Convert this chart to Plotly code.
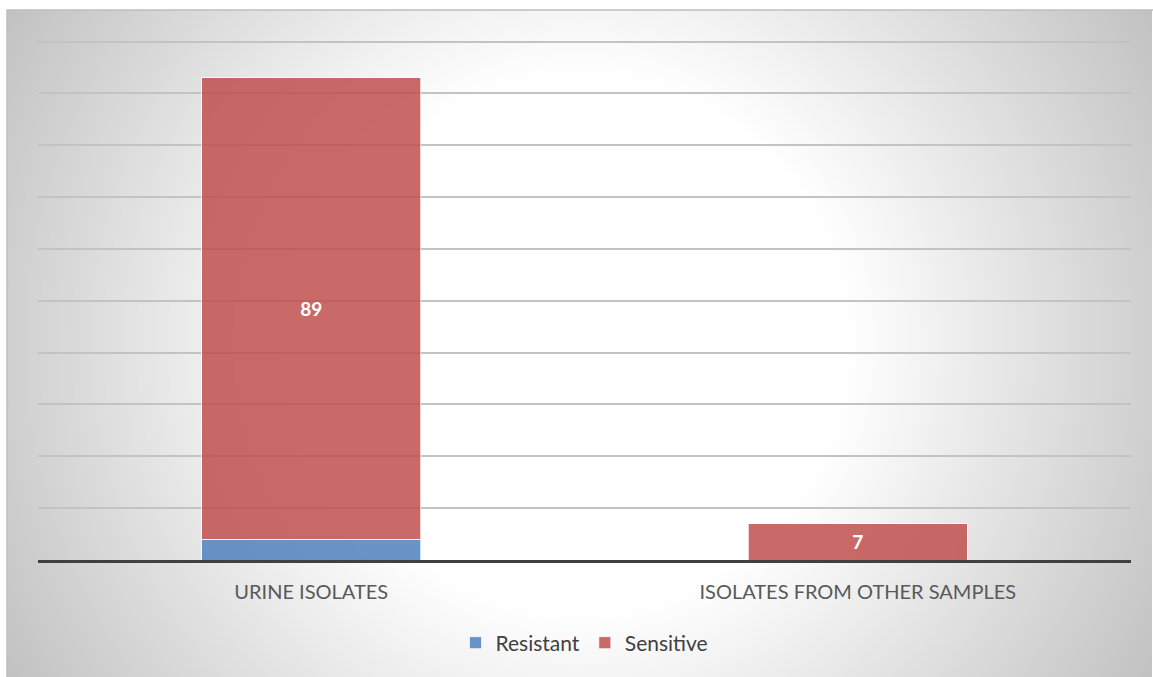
import base64
import struct
import zlib

import numpy as np
import plotly.graph_objects as go

# Chart data
categories = ["URINE ISOLATES", "ISOLATES FROM OTHER SAMPLES"]
resistant = [4, 0]
sensitive = [89, 7]

W, H = 1153, 677
ML, MR, MT, MB = 38, 22, 40, 117
PW, PH = W - ML - MR, H - MT - MB

# Chart-area frame in pixels (left, top, right, bottom)
FX0, FY0, FX1, FY1 = 7, 10, 1152, 677


def radial_png(w, h, scale):
    """Grayscale radial gradient: white centre fading to grey at the edges."""
    ys, xs = np.mgrid[0:h, 0:w].astype(float)
    cx, cy = (w - 1) / 2.0, (h - 1) / 2.0
    r = np.hypot(xs - cx, ys - cy) * scale
    v = 255 - np.clip(r - 270, 0, None) * 0.155
    v = np.clip(v, 190, 255).astype(np.uint8)
    raw = b"".join(b"\x00" + row.tobytes() for row in v)

    def chunk(tag, data):
        c = struct.pack(">I", len(data)) + tag + data
        return c + struct.pack(">I", zlib.crc32(tag + data) & 0xFFFFFFFF)

    png = b"\x89PNG\r\n\x1a\n"
    png += chunk(b"IHDR", struct.pack(">IIBBBBB", w, h, 8, 0, 0, 0, 0))
    png += chunk(b"IDAT", zlib.compress(raw, 9))
    png += chunk(b"IEND", b"")
    return "data:image/png;base64," + base64.b64encode(png).decode()


SC = 2
bg_src = radial_png((FX1 - FX0) // SC, (FY1 - FY0) // SC, SC)


def px_x(p):
    return (p - ML) / PW


def px_y(p):
    return (H - MB - p) / PH


fig = go.Figure()
fig.add_trace(go.Bar(
    name="Resistant", x=categories, y=resistant,
    marker=dict(color="rgba(79,129,189,0.85)",
                line=dict(color="rgba(255,255,255,0.7)", width=1)),
    hoverinfo="y",
))
fig.add_trace(go.Bar(
    name="Sensitive", x=categories, y=sensitive,
    text=[str(v) for v in sensitive], textposition="inside",
    insidetextanchor="middle",
    textfont=dict(family="Lato, Carlito, sans-serif", size=19, color="white", weight="bold"),
    marker=dict(color="rgba(192,80,77,0.85)",
                line=dict(color="rgba(255,255,255,0.7)", width=1)),
    hoverinfo="y",
))

fig.update_layout(
    width=W, height=H,
    margin=dict(l=ML, r=MR, t=MT, b=MB, pad=0),
    barmode="stack",
    bargap=0.6,
    paper_bgcolor="white",
    plot_bgcolor="rgba(0,0,0,0)",
    font=dict(family="Lato, Carlito, sans-serif", color="#595959"),
    showlegend=True,
    legend=dict(orientation="h", x=0.5, xanchor="center", y=px_y(643), yanchor="middle",
                font=dict(size=21, color="#404040"), bgcolor="rgba(0,0,0,0)",
                traceorder="normal", itemwidth=30),
    xaxis=dict(showgrid=False, showline=True, linecolor="#404040", linewidth=3,
               ticks="", tickfont=dict(size=20, color="#595959"), ticklabelstandoff=12),
    yaxis=dict(range=[0, 100.3], tickvals=list(range(10, 101, 10)), showgrid=True,
               gridcolor="#c3c3c3", gridwidth=1.5,
               showticklabels=False, zeroline=False, showline=False),
    images=[dict(source=bg_src, xref="paper", yref="paper",
                 x=px_x(FX0), y=px_y(FY0), sizex=px_x(FX1) - px_x(FX0),
                 sizey=px_y(FY0) - px_y(FY1), sizing="stretch",
                 xanchor="left", yanchor="top", layer="below")],
    shapes=[dict(type="rect", xref="paper", yref="paper", layer="below",
                 x0=px_x(FX0), x1=px_x(FX1 + 2), y0=px_y(FY1 + 2), y1=px_y(FY0),
                 line=dict(color="#bfbfbf", width=1.5), fillcolor="rgba(0,0,0,0)")],
)

fig.write_html("out.html")
